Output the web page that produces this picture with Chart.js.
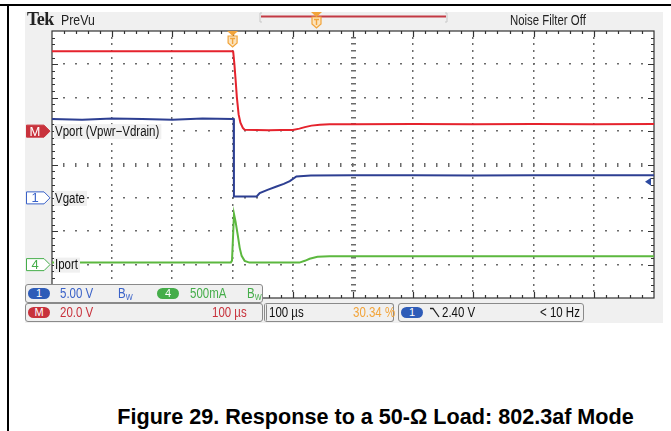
<!DOCTYPE html>
<html>
<head>
<meta charset="utf-8">
<script src="https://cdn.jsdelivr.net/npm/chart.js@4.4.1/dist/chart.umd.min.js"></script>
<style>
  html, body { margin: 0; padding: 0; background: #fff; }
  #page { position: relative; width: 671px; height: 431px; overflow: hidden; background: #fff;
          font-family: "Liberation Sans", Arial, sans-serif; }
  .rule { position: absolute; background: #000; }
  #screen { position: absolute; left: 25px; top: 12px; width: 638px; height: 311px; background: #f0f0f0; }
  #scope { position: absolute; left: 0; top: 0; z-index: 1; }
  .hdr { position: absolute; z-index: 2; white-space: nowrap; color: #222; }
  .n { display: inline-block; transform: scaleX(0.82); transform-origin: 0 0; white-space: nowrap; }
  .box { position: absolute; z-index: 3; height: 19px; border: 1px solid #8a8a8a; border-radius: 3px;
         background: #f0f0f0; box-sizing: border-box; font-size: 14px; line-height: 17px; white-space: nowrap; }
  .box > span { position: absolute; top: 0; }
  .pill { position: absolute; top: 3px; height: 11px; border-radius: 6px; color: #fff; font-size: 11px;
          line-height: 11px; text-align: center; }
  sub { font-size: 9px; vertical-align: -2px; }
  #caption { position: absolute; left: 0; width: 671px; top: 404px; text-align: center; padding-left: 80px;
             box-sizing: border-box; font: bold 21.6px "Liberation Sans", Arial, sans-serif; color: #000; }
</style>
</head>
<body>
<div id="page">
  <div class="rule" style="left:0;top:4px;width:671px;height:2px"></div>
  <div class="rule" style="left:7px;top:4px;width:2px;height:427px"></div>
  <div id="screen"></div>

  <div class="hdr" style="left:27px;top:9px;font:bold 18px 'Liberation Serif',serif;letter-spacing:-0.5px">Tek</div>
  <div class="hdr" style="left:61px;top:11px;font-size:15px"><span class="n">PreVu</span></div>
  <div class="hdr" style="left:510px;top:11px;font-size:15px"><span class="n" style="transform:scaleX(0.76)">Noise Filter Off</span></div>
  <svg class="hdr" style="left:255px;top:8px" width="200" height="24">
    <path d="M7 5 H5 V14 H7" fill="none" stroke="#c8c8c8" stroke-width="1"/>
    <path d="M190 5 H192 V14 H190" fill="none" stroke="#c8c8c8" stroke-width="1"/>
    <line x1="6" y1="8.5" x2="191" y2="8.5" stroke="#c33a44" stroke-width="2"/>
    <path d="M56 4 H67 L61.5 9 Z" fill="#f2a43a"/>
    <path d="M57 9 H66 V16 L61.5 20 L57 16 Z" fill="#fbe3bd" stroke="#f2a43a" stroke-width="1.2"/>
    <path d="M59 11.5 H64 M61.5 11.5 V17" stroke="#f2a43a" stroke-width="1.4"/>
  </svg>

  <canvas id="scope" width="671" height="431"></canvas>

  <!-- vertical settings -->
  <div class="box" style="left:25px;top:284px;width:238px">
    <div class="pill" style="left:2px;width:22px;background:#2e5cb8">1</div>
    <span style="left:34px;color:#3a62c8"><span class="n">5.00 V</span></span>
    <span style="left:92px;color:#3a62c8"><span class="n">B<sub>W</sub></span></span>
    <div class="pill" style="left:131px;width:22px;background:#45ad4a">4</div>
    <span style="left:164px;color:#45ad4a"><span class="n">500mA</span></span>
    <span style="left:221px;color:#45ad4a"><span class="n">B<sub>W</sub></span></span>
  </div>
  <div class="box" style="left:25px;top:303px;width:238px">
    <div class="pill" style="left:2px;width:22px;background:#c8323c">M</div>
    <span style="left:34px;color:#c8323c"><span class="n">20.0 V</span></span>
    <span style="left:186px;color:#c8323c"><span class="n">100 µs</span></span>
  </div>
  <!-- horizontal settings -->
  <div class="box" style="left:264px;top:303px;width:130px;border-left:3px double #8a8a8a">
    <span style="left:2px;color:#111"><span class="n">100 µs</span></span>
    <span style="left:86px;color:#f2a43a"><span class="n">30.34 %</span></span>
  </div>
  <!-- trigger settings -->
  <div class="box" style="left:398px;top:303px;width:186px">
    <div class="pill" style="left:2px;width:22px;background:#2e5cb8">1</div>
    <svg style="position:absolute;left:31px;top:3px" width="10" height="12">
      <path d="M0 1.5 H3 L9 10" fill="none" stroke="#222" stroke-width="1.3"/>
    </svg>
    <span style="left:43px;color:#111"><span class="n">2.40 V</span></span>
    <span style="left:141px;color:#111"><span class="n">&lt; 10 Hz</span></span>
  </div>

  <div id="caption">Figure 29. Response to a 50-Ω Load: 802.3af Mode</div>
</div>

<script>
// Channel M: Vport (Vpwr − Vdrain), volts
const vportTimeUs = [-300, -200, -100, -20, 0, 1, 3, 5, 7, 10, 13, 17, 20, 40, 60, 80, 100, 111, 120, 131, 145, 161, 200, 300, 400, 500, 600, 700];
const vportVolts  = [47.8, 47.8, 47.9, 47.8, 47.8, 47.5, 40, 30.7, 20.5, 10, 5, 1.9, 0.8, 0.7, 0.5, 0.6, 0.7, 1.5, 2.4, 3.3, 3.8, 4.1, 4.1, 4.2, 4.1, 4.2, 4.1, 4.2];

// Channel 1: Vgate, volts
const vgateTimeUs = [-300, -250, -200, -150, -100, -50, 0, 1.8, 2.2, 40, 45, 58, 73, 85, 95, 106, 130, 200, 300, 400, 500, 600, 700];
const vgateVolts  = [11.8, 11.7, 11.9, 11.8, 11.7, 11.9, 11.8, 11.8, 0.2, 0.2, 0.7, 1.2, 1.7, 2.1, 2.5, 3.2, 3.35, 3.4, 3.4, 3.35, 3.4, 3.4, 3.4];

// Channel 4: Iport, milliamps
const iportTimeUs    = [-300, -200, -100, -3, -1, 0.5, 2.3, 5, 8.5, 11.8, 15, 20, 28, 60, 111, 120, 128, 141, 161, 250, 400, 550, 700];
const iportMilliamps = [30, 30, 30, 30, 60, 370, 760, 640, 446, 251, 131, 57, 30, 30, 30, 57, 87, 117, 124, 124, 124, 124, 124];

// Channel labels and trigger
const channelLabels = ['Vport (Vpwr−Vdrain)', 'Vgate', 'Iport'];
const channelTags   = ['M', '1', '4'];
const triggerLevelVolts = 2.40;

const pts = (xs, ys) => xs.map((x, i) => ({ x, y: ys[i] }));

const UI_FONT = '"Liberation Sans", Arial, sans-serif';
const NARROW = 0.82;

function narrowText(ctx, text, x, y) {
  ctx.save(); ctx.translate(x, y); ctx.scale(NARROW, 1); ctx.fillText(text, 0, 0); ctx.restore();
}

function drawMarker(ctx, x, top) {
  // trigger position marker: small triangle over a "T" shield
  ctx.fillStyle = '#f2a43a';
  ctx.beginPath(); ctx.moveTo(x - 5.5, top); ctx.lineTo(x + 5.5, top); ctx.lineTo(x, top + 5); ctx.closePath(); ctx.fill();
  ctx.beginPath();
  ctx.moveTo(x - 4.5, top + 5); ctx.lineTo(x + 4.5, top + 5); ctx.lineTo(x + 4.5, top + 12);
  ctx.lineTo(x, top + 16); ctx.lineTo(x - 4.5, top + 12); ctx.closePath();
  ctx.fillStyle = '#fbe3bd'; ctx.fill();
  ctx.strokeStyle = '#f2a43a'; ctx.lineWidth = 1.2; ctx.stroke();
  ctx.beginPath(); ctx.moveTo(x - 2.5, top + 7.5); ctx.lineTo(x + 2.5, top + 7.5);
  ctx.moveTo(x, top + 7.5); ctx.lineTo(x, top + 13); ctx.lineWidth = 1.4; ctx.stroke();
}

function drawTag(ctx, text, yc, color, filled) {
  const x0 = 26.5, x1 = 44, x2 = 50;
  ctx.beginPath();
  ctx.moveTo(x0, yc - 6); ctx.lineTo(x1, yc - 6); ctx.lineTo(x2, yc); ctx.lineTo(x1, yc + 6); ctx.lineTo(x0, yc + 6); ctx.closePath();
  ctx.fillStyle = filled ? color : '#fff'; ctx.fill();
  ctx.strokeStyle = color; ctx.lineWidth = 1; ctx.stroke();
  ctx.fillStyle = filled ? '#fff' : color;
  ctx.font = '13px ' + UI_FONT; ctx.textAlign = 'center'; ctx.textBaseline = 'middle';
  ctx.fillText(text, 35, yc + 1);
}

function drawLabel(ctx, text, yc) {
  ctx.font = '14px ' + UI_FONT; ctx.textAlign = 'left'; ctx.textBaseline = 'middle';
  const w = ctx.measureText(text).width * NARROW;
  ctx.fillStyle = '#f0f0f0'; ctx.fillRect(54, yc - 7, w + 3, 15);
  ctx.fillStyle = '#111'; narrowText(ctx, text, 55, yc + 1);
}

const scopeScreen = {
  id: 'scopeScreen',
  beforeDatasetsDraw(chart) {
    const { ctx, chartArea: a, scales } = chart;
    const xs = scales.x, ys = scales.yDiv;
    ctx.save();
    ctx.fillStyle = '#fff';
    ctx.fillRect(a.left, a.top, a.width, a.height);
    const dx = a.width / 10, dy = a.height / 8;
    ctx.fillStyle = '#6a6a6a';
    // dotted division lines, five dots per division
    for (let i = 1; i < 10; i++) {
      const x = Math.round(xs.getPixelForValue(xs.min + i * 100));
      for (let k = 1; k < 40; k++) {
        const y = Math.round(a.top + k * dy / 5);
        if (i === 5) ctx.fillRect(x - 2, y - 1, 5, 1.5); else ctx.fillRect(x - 1, y - 1, 1.5, 2);
      }
    }
    for (let j = 1; j < 8; j++) {
      const y = Math.round(ys.getPixelForValue(j));
      for (let k = 1; k < 50; k++) {
        const x = Math.round(a.left + k * dx / 5);
        if (j === 4) ctx.fillRect(x - 1, y - 2, 1.5, 4); else ctx.fillRect(x - 1, y - 1, 2, 1.5);
      }
    }
    // graticule frame with minor ticks
    ctx.strokeStyle = '#333'; ctx.lineWidth = 1.2;
    ctx.strokeRect(a.left, a.top, a.width, a.height);
    ctx.beginPath();
    for (let k = 1; k < 50; k++) {
      const x = Math.round(a.left + k * dx / 5) + 0.5, len = k % 5 === 0 ? 6 : 3;
      ctx.moveTo(x, a.top); ctx.lineTo(x, a.top + len);
      ctx.moveTo(x, a.bottom); ctx.lineTo(x, a.bottom - len);
    }
    for (let k = 1; k < 40; k++) {
      const y = Math.round(a.top + k * dy / 5) + 0.5, len = k % 5 === 0 ? 6 : 3;
      ctx.moveTo(a.left, y); ctx.lineTo(a.left + len, y);
      ctx.moveTo(a.right, y); ctx.lineTo(a.right - len, y);
    }
    ctx.stroke();
    ctx.restore();
  },
  afterDatasetsDraw(chart) {
    const { ctx, chartArea: a, scales } = chart;
    ctx.save();
    const yM = scales.yM.getPixelForValue(0), y1 = scales.y1.getPixelForValue(0), y4 = scales.y4.getPixelForValue(0);
    drawLabel(ctx, channelLabels[0], yM);
    drawLabel(ctx, channelLabels[1], y1);
    drawLabel(ctx, channelLabels[2], y4);
    drawTag(ctx, channelTags[0], yM, '#c8323c', true);
    drawTag(ctx, channelTags[1], y1, '#3a62c8', false);
    drawTag(ctx, channelTags[2], y4, '#45ad4a', false);
    drawMarker(ctx, scales.x.getPixelForValue(0), a.top);
    // trigger level arrow on the right edge
    const yt = scales.y1.getPixelForValue(triggerLevelVolts);
    ctx.fillStyle = '#2c4aa0';
    ctx.beginPath(); ctx.moveTo(a.right - 9, yt); ctx.lineTo(a.right - 3, yt - 4); ctx.lineTo(a.right - 3, yt + 4); ctx.closePath(); ctx.fill();
    ctx.restore();
  }
};

const trace = (label, data, color, axis) => ({
  label, data, yAxisID: axis, borderColor: color, borderWidth: 2,
  pointRadius: 0, tension: 0, fill: false
});

new Chart(document.getElementById('scope'), {
  type: 'line',
  data: {
    datasets: [
      trace('Iport', pts(iportTimeUs, iportMilliamps), '#5cb83f', 'y4'),
      trace('Vgate', pts(vgateTimeUs, vgateVolts), '#2d3f92', 'y1'),
      trace('Vport', pts(vportTimeUs, vportVolts), '#e5232d', 'yM')
    ]
  },
  options: {
    responsive: false,
    animation: false,
    devicePixelRatio: 1,
    layout: { padding: { left: 52, right: 17, top: 31, bottom: 133 } },
    plugins: { legend: { display: false }, tooltip: { enabled: false } },
    scales: {
      // 100 µs/div, trigger three divisions from the left
      x:    { type: 'linear', min: -300, max: 700, display: false },
      yDiv: { type: 'linear', min: 0, max: 8, reverse: true, display: false },
      // 20 V/div, 5 V/div, 500 mA/div with their ground levels
      yM:   { type: 'linear', min: -100, max: 60, display: false },
      y1:   { type: 'linear', min: -15, max: 25, display: false },
      y4:   { type: 'linear', min: -500, max: 3500, display: false }
    }
  },
  plugins: [scopeScreen]
});
</script>
</body>
</html>
